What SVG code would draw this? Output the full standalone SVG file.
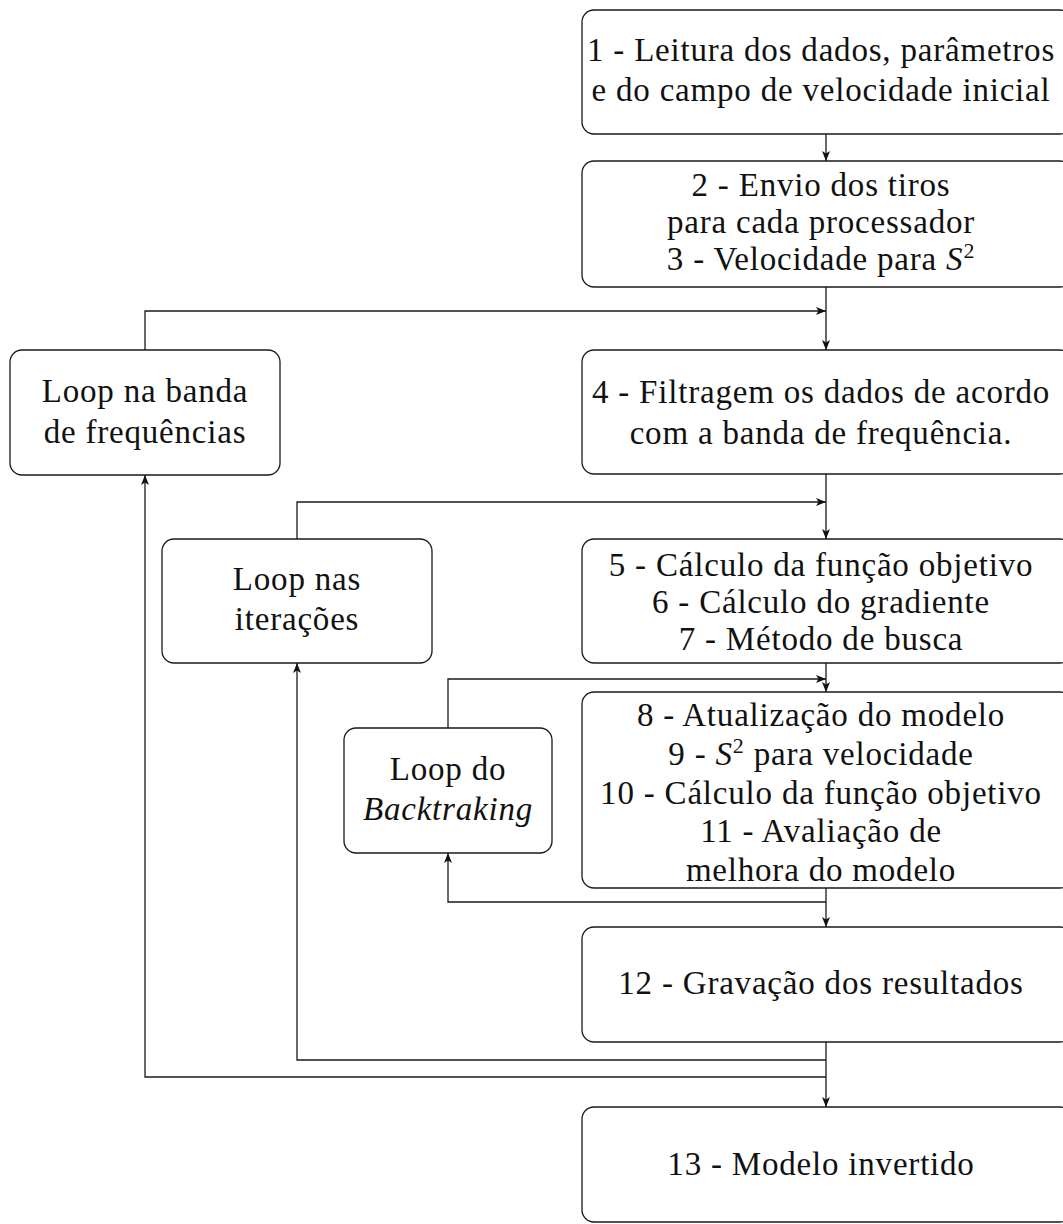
<svg xmlns="http://www.w3.org/2000/svg" width="1063" height="1224" viewBox="0 0 1063 1224">
  <style>
    .box { fill: #ffffff; stroke: #1a1a1a; stroke-width: 1.3; }
    .lbl { font-family: "Liberation Serif", "Times New Roman", serif; font-size: 33px; letter-spacing: 0.8px; fill: #111111; text-anchor: middle; }
    .it { font-style: italic; }
    .sup { font-size: 22px; }
    .wire { fill: none; stroke: #1a1a1a; stroke-width: 1.3; }
  </style>
  <defs>
    <marker id="tip" viewBox="0 0 10 8" refX="10" refY="4" markerWidth="10" markerHeight="8" markerUnits="userSpaceOnUse" orient="auto">
      <path d="M0,0 L10,4 L0,8 L2.5,4 Z" fill="#111111"/>
    </marker>
  </defs>
  <rect width="1063" height="1224" fill="#ffffff"/>

  <!-- connectors: main trunk plus the three loop-back paths -->
  <g id="connectors">
    <path class="wire" d="M826,134 V161" marker-end="url(#tip)"/>
    <path class="wire" d="M826,287 V350" marker-end="url(#tip)"/>
    <path class="wire" d="M826,474 V539" marker-end="url(#tip)"/>
    <path class="wire" d="M826,663 V692" marker-end="url(#tip)"/>
    <path class="wire" d="M826,888 V927" marker-end="url(#tip)"/>
    <path class="wire" d="M826,1042 V1107" marker-end="url(#tip)"/>
    <path class="wire" d="M145,350 V311 H826" marker-end="url(#tip)"/>
    <path class="wire" d="M297,539 V502 H826" marker-end="url(#tip)"/>
    <path class="wire" d="M448,728 V679 H826" marker-end="url(#tip)"/>
    <path class="wire" d="M826,902 H448 V853" marker-end="url(#tip)"/>
    <path class="wire" d="M826,1060 H297 V663" marker-end="url(#tip)"/>
    <path class="wire" d="M826,1077 H145 V475" marker-end="url(#tip)"/>
  </g>

  <g id="n1">
    <rect class="box" x="582" y="10" width="490" height="124" rx="12"/>
    <text class="lbl" x="821" y="61">1 - Leitura dos dados, parâmetros</text>
    <text class="lbl" x="821" y="101">e do campo de velocidade inicial</text>
  </g>
  <g id="n2">
    <rect class="box" x="582" y="161" width="490" height="126" rx="12"/>
    <text class="lbl" x="821" y="196">2 - Envio dos tiros</text>
    <text class="lbl" x="821" y="233">para cada processador</text>
    <text class="lbl" x="821" y="270">3 - Velocidade para <tspan class="it">S</tspan><tspan class="sup" dy="-12">2</tspan></text>
  </g>
  <g id="n4">
    <rect class="box" x="582" y="350" width="490" height="124" rx="12"/>
    <text class="lbl" x="821" y="403">4 - Filtragem os dados de acordo</text>
    <text class="lbl" x="821" y="444">com a banda de frequência.</text>
  </g>
  <g id="loop-banda">
    <rect class="box" x="10" y="350" width="270" height="125" rx="12"/>
    <text class="lbl" x="145" y="402">Loop na banda</text>
    <text class="lbl" x="145" y="443">de frequências</text>
  </g>
  <g id="loop-iter">
    <rect class="box" x="162" y="539" width="270" height="124" rx="12"/>
    <text class="lbl" x="297" y="590">Loop nas</text>
    <text class="lbl" x="297" y="630">iterações</text>
  </g>
  <g id="n5">
    <rect class="box" x="582" y="539" width="490" height="124" rx="12"/>
    <text class="lbl" x="821" y="576">5 - Cálculo da função objetivo</text>
    <text class="lbl" x="821" y="613">6 - Cálculo do gradiente</text>
    <text class="lbl" x="821" y="650">7 - Método de busca</text>
  </g>
  <g id="loop-backtraking">
    <rect class="box" x="344" y="728" width="208" height="125" rx="12"/>
    <text class="lbl" x="448" y="780">Loop do</text>
    <text class="lbl it" x="448" y="820">Backtraking</text>
  </g>
  <g id="n8">
    <rect class="box" x="582" y="692" width="490" height="196" rx="12"/>
    <text class="lbl" x="821" y="726">8 - Atualização do modelo</text>
    <text class="lbl" x="821" y="765">9 - <tspan class="it">S</tspan><tspan class="sup" dy="-12">2</tspan><tspan dy="12"> para velocidade</tspan></text>
    <text class="lbl" x="821" y="804">10 - Cálculo da função objetivo</text>
    <text class="lbl" x="821" y="842">11 - Avaliação de</text>
    <text class="lbl" x="821" y="881">melhora do modelo</text>
  </g>
  <g id="n12">
    <rect class="box" x="582" y="927" width="490" height="115" rx="12"/>
    <text class="lbl" x="821" y="994">12 - Gravação dos resultados</text>
  </g>
  <g id="n13">
    <rect class="box" x="582" y="1107" width="490" height="115" rx="12"/>
    <text class="lbl" x="821" y="1175">13 - Modelo invertido</text>
  </g>
</svg>
